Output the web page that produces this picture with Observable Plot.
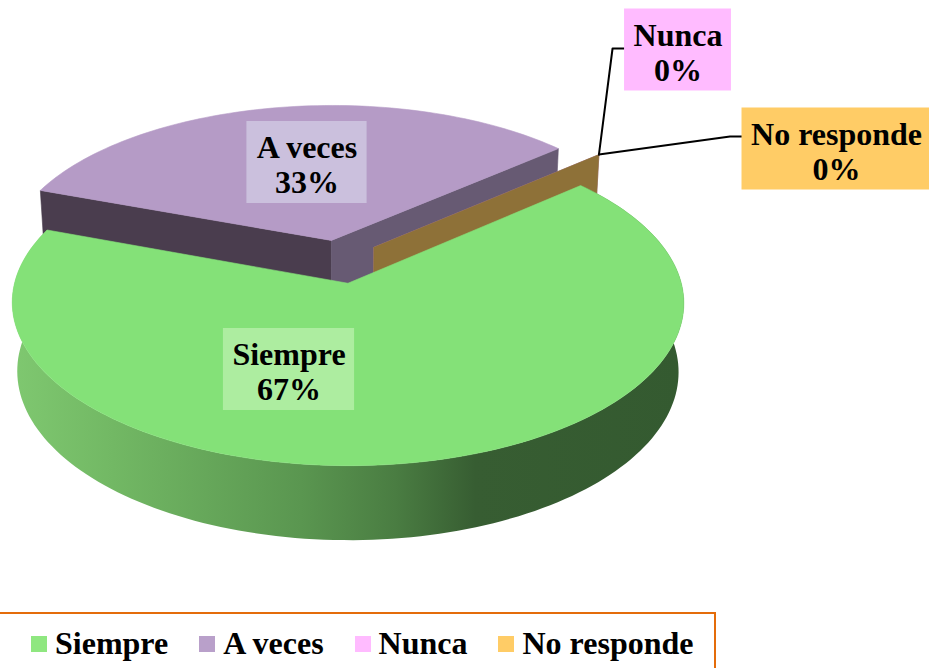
<!DOCTYPE html>
<html>
<head>
<meta charset="utf-8">
<script src="https://cdn.jsdelivr.net/npm/d3@7"></script>
<script src="https://cdn.jsdelivr.net/npm/@observablehq/plot@0.6"></script>
<style>
  html, body { margin: 0; padding: 0; background: #fff; overflow: hidden; }
  body { width: 929px; height: 668px; position: relative; font-family: "Liberation Serif", "Times New Roman", serif; }
  #chart { position: absolute; left: 0; top: 0; }
  #legend { position: absolute; left: -5px; top: 612px; width: 721px; height: 61px; box-sizing: border-box;
            border-top: 2px solid #E46C0A; border-right: 2px solid #E46C0A;
            display: flex; align-items: center; padding-left: 36px; }
  .item { display: flex; align-items: center; margin-right: 31px; font-weight: bold; font-size: 32px; color: #000; white-space: nowrap; }
  .sw { width: 16px; height: 16px; margin-right: 8px; }
</style>
</head>
<body>
<div id="chart"></div>
<div id="legend"></div>
<script>
// ---- data ----
const categories = ["Siempre", "A veces", "Nunca", "No responde"];
const values = [67, 33, 0, 0];
const percentLabels = ["67%", "33%", "0%", "0%"];

// ---- styles ----
const topColors = ["#84E178", "#B59BC6", "#FFBBFF", "#FFCC66"];
const legendColors = ["#8FE780", "#B9A0CA", "#FFBBFF", "#FFCC66"];
const labelBg = ["#ADEDA0", "#CBC0DD", "#FFBBFF", "#FFCC66"];
const startFaceColors = ["#3F6E36", "#4A3D4E", "#B57DB5", "#8E7138"];
const endFaceColors = ["#3F6E36", "#675A73", "#B57DB5", "#8E7138"];

// ---- layout ----
const W = 929, H = 608;
const CX = 339, CY = 261, R = 328;
const SIN = 0.474, COS = Math.sqrt(1 - SIN * SIN), DIST = 7.5;
const THICK = 0.238, EXPLODE = 0.14, START = -41; // degrees, 0 = right, 90 = toward viewer
const labelCenters = [[288.5, 369], [306.5, 162], [677.5, 49.5], [836, 148.5]];
const leaderAttachDy = [null, null, -1.5, -12.5];
const FONT = 32, LINE_H = 35;

const toX = px => (px - CX) / R;
const toY = py => (py - CY) / R;
const rad = d => d * Math.PI / 180;

function project(xw, zw, h) {
  const c = zw * COS + h * SIN;
  const p = DIST / (DIST - c);
  return {x: xw * p, y: (zw * SIN - h * COS) * p};
}
function pt(theta, r, h, off) {
  return project(off.x + r * Math.cos(rad(theta)), off.z + r * Math.sin(rad(theta)), h);
}

const pie = d3.pie().sort(null).value(d => d.value)
  .startAngle(rad(START + 90)).endAngle(rad(START + 450));
const table = categories.map((c, i) => ({name: c, value: values[i], pct: percentLabels[i], i}));
const arcs = pie(table).map(a => {
  const t0 = a.startAngle * 180 / Math.PI - 90;
  const t1 = a.endAngle * 180 / Math.PI - 90;
  const mid = (t0 + t1) / 2;
  const off = {x: EXPLODE * Math.cos(rad(mid)), z: EXPLODE * Math.sin(rad(mid))};
  return {...a.data, t0, t1, mid, off};
});

function arcPts(a, h, from, to) {
  const n = Math.max(2, Math.ceil(Math.abs(to - from) / 1.5));
  return d3.range(n + 1).map(k => pt(from + (to - from) * k / n, 1, h, a.off));
}
function topFace(a) {
  const c = pt(0, 0, 0, a.off);
  return [c, ...arcPts(a, 0, a.t0, a.t1), c];
}
function outerWall(a) {
  const top = arcPts(a, 0, a.t0, a.t1);
  const bot = arcPts(a, -THICK, a.t1, a.t0);
  return [...top, ...bot, top[0]];
}
function radialFace(a, theta) {
  const p = [pt(theta, 0, 0, a.off), pt(theta, 1, 0, a.off), pt(theta, 1, -THICK, a.off), pt(theta, 0, -THICK, a.off)];
  return [...p, p[0]];
}
const tag = (pts, face) => pts.map(p => ({...p, face}));

function polyMark(pts, fill, stroke = fill) {
  return Plot.line(pts, {x: "x", y: "y", z: "face", fill, stroke, strokeWidth: stroke === "none" ? 0 : 0.6, curve: "linear"});
}

const [siempre, aveces, nunca, noresp] = arcs;
const marks = [];

// gradient definition for the green outer wall
marks.push(() => {
  const ns = "http://www.w3.org/2000/svg";
  const defs = document.createElementNS(ns, "defs");
  const g = document.createElementNS(ns, "linearGradient");
  g.setAttribute("id", "greenWall");
  g.setAttribute("x1", "0"); g.setAttribute("x2", "1"); g.setAttribute("y1", "0"); g.setAttribute("y2", "0");
  [["0", "#7FC870"], ["0.15", "#72B864"], ["0.43", "#5A9650"], ["0.57", "#4A7D42"], ["0.69", "#375D32"], ["1", "#345A30"]].forEach(([o, c]) => {
    const s = document.createElementNS(ns, "stop");
    s.setAttribute("offset", o); s.setAttribute("stop-color", c);
    g.appendChild(s);
  });
  defs.appendChild(g);
  return defs;
});

// A veces (exploded, back)
marks.push(polyMark(tag(radialFace(aveces, aveces.t0), "av-s"), startFaceColors[1]));
marks.push(polyMark(tag(radialFace(aveces, aveces.t1), "av-e"), endFaceColors[1]));
marks.push(polyMark(tag(topFace(aveces), "av-top"), topColors[1]));
// zero slices: only their radial wall shows
[nunca, noresp].forEach(a => {
  marks.push(polyMark(tag(radialFace(a, a.t0), a.name + "-wall"), endFaceColors[a.i]));
});
// Siempre (front)
marks.push(polyMark(tag(outerWall(siempre), "si-wall"), "url(#greenWall)", "none"));
marks.push(polyMark(tag(topFace(siempre), "si-top"), topColors[0]));

// label geometry
const ctx = document.createElement("canvas").getContext("2d");
ctx.font = `bold ${FONT}px "Liberation Serif"`;
const labels = arcs.map(a => {
  const [cx, cy] = labelCenters[a.i];
  const w = Math.max(ctx.measureText(a.name).width, ctx.measureText(a.pct).width) + 18;
  const h = 82;
  return {...a, cx, cy, w, h, bg: labelBg[a.i]};
});
// leader lines for the 0% slices
[labels[2], labels[3]].forEach(l => {
  const end = pt(l.t0, 1, 0, l.off);
  const left = l.cx - l.w / 2;
  const ay = l.cy + leaderAttachDy[l.i];
  const path = [{x: toX(left), y: toY(ay)}, {x: toX(left - 12), y: toY(ay)}, end].map(p => ({...p, face: l.name}));
  marks.push(Plot.line(path, {x: "x", y: "y", z: "face", stroke: "#000", strokeWidth: 2, curve: "linear"}));
});

// label boxes and text
marks.push(Plot.rect(labels, {
  x1: d => toX(d.cx - d.w / 2), x2: d => toX(d.cx + d.w / 2),
  y1: d => toY(d.cy - d.h / 2), y2: d => toY(d.cy + d.h / 2),
  fill: "bg"
}));
marks.push(Plot.text(labels, {
  x: d => toX(d.cx), y: d => toY(d.cy), text: d => d.name + "\n" + d.pct,
  fontFamily: "Liberation Serif", fontWeight: "bold", fontSize: FONT,
  lineHeight: LINE_H / FONT, fill: "#000", dy: 2, textAnchor: "middle", lineAnchor: "middle"
}));

const chart = Plot.plot({
  width: W, height: H,
  marginTop: 0, marginRight: 0, marginBottom: 0, marginLeft: 0,
  x: {type: "linear", domain: [toX(0), toX(W)], range: [0, W], axis: null},
  y: {type: "linear", domain: [toY(0), toY(H)], range: [0, H], axis: null},
  color: {type: "identity"},
  style: {background: "#fff", overflow: "visible"},
  marks
});
document.getElementById("chart").appendChild(chart);

// legend
const legend = document.getElementById("legend");
categories.forEach((c, i) => {
  const item = document.createElement("div");
  item.className = "item";
  const sw = document.createElement("span");
  sw.className = "sw";
  sw.style.background = legendColors[i];
  const t = document.createElement("span");
  t.textContent = c;
  item.appendChild(sw); item.appendChild(t);
  legend.appendChild(item);
});
</script>
</body>
</html>
